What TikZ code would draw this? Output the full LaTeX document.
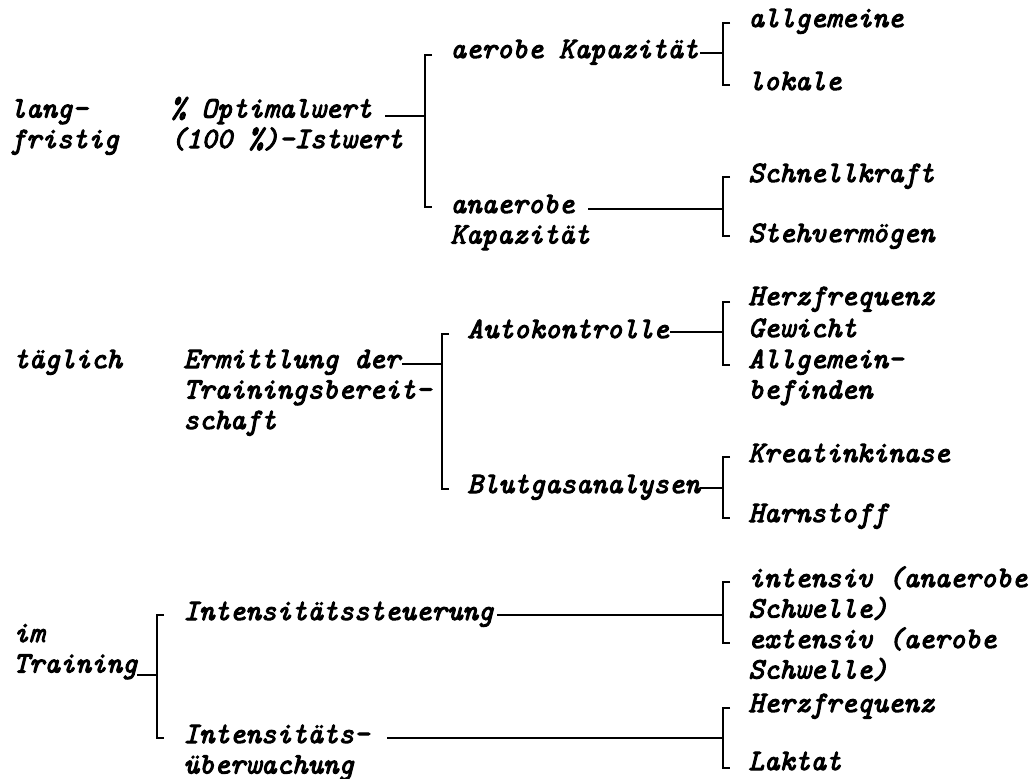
\documentclass[tikz,border=0pt]{standalone}
\usepackage{fontspec}
\newfontfamily\lbfont[ItalicFeatures={FakeBold=3.5}]{Latin Modern Mono}
\begin{document}
\begin{tikzpicture}[x=0.5pt, y=-0.5pt, line join=miter, line cap=butt,
	lbl/.style={anchor=base west, inner sep=0pt, align=left, font=\lbfont\itshape\fontsize{14.76}{15.25}\selectfont},
	brk/.style={line width=1.4pt}]
	\useasboundingbox (0,0) rectangle (1035,778);
	% langfristig (multi-line nodes sit on their last line)
	\node[lbl] (lang) at (10,148) {lang-\\fristig};
	\node[lbl] (opt) at (170,148) {\% Optimalwert\\(100 \%)-Istwert};
	\node[lbl] (aer) at (450,58) {aerobe Kapazität};
	\node[lbl] (anaer) at (450,243.5) {anaerobe\\Kapazität};
	\node[lbl] (allg) at (748,27) {allgemeine};
	\node[lbl] (lok) at (748,90) {lokale};
	\node[lbl] (schn) at (748,182) {Schnellkraft};
	\node[lbl] (steh) at (748,242) {Stehvermögen};
	\coordinate (c1) at (385,116); \coordinate (b1) at (425,116);
	\coordinate (c2) at (700,53);  \coordinate (b2) at (723,53);
	\coordinate (c3) at (588,209); \coordinate (b3) at (723,209);
	\draw[brk] (c1) -- (b1) (c2) -- (b2) (c3) -- (b3);
	\draw[brk] (432,55) -- (425,55) -- (425,207) -- (432,207);
	\draw[brk] (730,23) -- (723,23) -- (723,85) -- (730,85);
	\draw[brk] (730,177) -- (723,177) -- (723,236) -- (730,236);
	% taeglich
	\node[lbl] (tgl) at (13,368) {täglich};
	\node[lbl] (ermi) at (183,429) {Ermittlung der\\Trainingsbereit-\\schaft};
	\node[lbl] (auto) at (467,338) {Autokontrolle};
	\node[lbl] (blut) at (467,493) {Blutgasanalysen};
	\node[lbl] (herz) at (748,305) {Herzfrequenz};
	\node[lbl] (gew) at (748,337) {Gewicht};
	\node[lbl] (befi) at (748,398.5) {Allgemein-\\befinden};
	\node[lbl] (krea) at (748,462) {Kreatinkinase};
	\node[lbl] (harn) at (748,522) {Harnstoff};
	\coordinate (c4) at (402,364); \coordinate (b4) at (442,364);
	\coordinate (c5) at (670,332); \coordinate (b5) at (723,332);
	\coordinate (c6) at (700,488); \coordinate (b6) at (723,488);
	\draw[brk] (c4) -- (b4) (c5) -- (b5) (c6) -- (b6);
	\draw[brk] (449,334) -- (442,334) -- (442,489) -- (449,489);
	\draw[brk] (730,302) -- (723,302) -- (723,365) -- (730,365);
	\draw[brk] (730,457) -- (723,457) -- (723,518) -- (730,518);
	% im Training
	\node[lbl] (imtr) at (13,672.5) {im\\Training};
	\node[lbl] (steu) at (183,620) {Intensitätssteuerung};
	\node[lbl] (ueber) at (183,773.5) {Intensitäts-\\überwachung};
	\node[lbl] (inte) at (748,617.5) {intensiv (anaerobe\\Schwelle)};
	\node[lbl] (exte) at (748,678.5) {extensiv (aerobe\\Schwelle)};
	\node[lbl] (herz2) at (748,712) {Herzfrequenz};
	\node[lbl] (lakt) at (748,770) {Laktat};
	\coordinate (c7) at (137,675); \coordinate (b7) at (157,675);
	\coordinate (c8) at (497,615); \coordinate (b8) at (723,615);
	\coordinate (c9) at (387,738); \coordinate (b9) at (723,738);
	\draw[brk] (c7) -- (b7) (c8) -- (b8) (c9) -- (b9);
	\draw[brk] (164,615) -- (157,615) -- (157,738) -- (164,738);
	\draw[brk] (730,582) -- (723,582) -- (723,643) -- (730,643);
	\draw[brk] (730,708) -- (723,708) -- (723,768) -- (730,768);
\end{tikzpicture}
\end{document}
